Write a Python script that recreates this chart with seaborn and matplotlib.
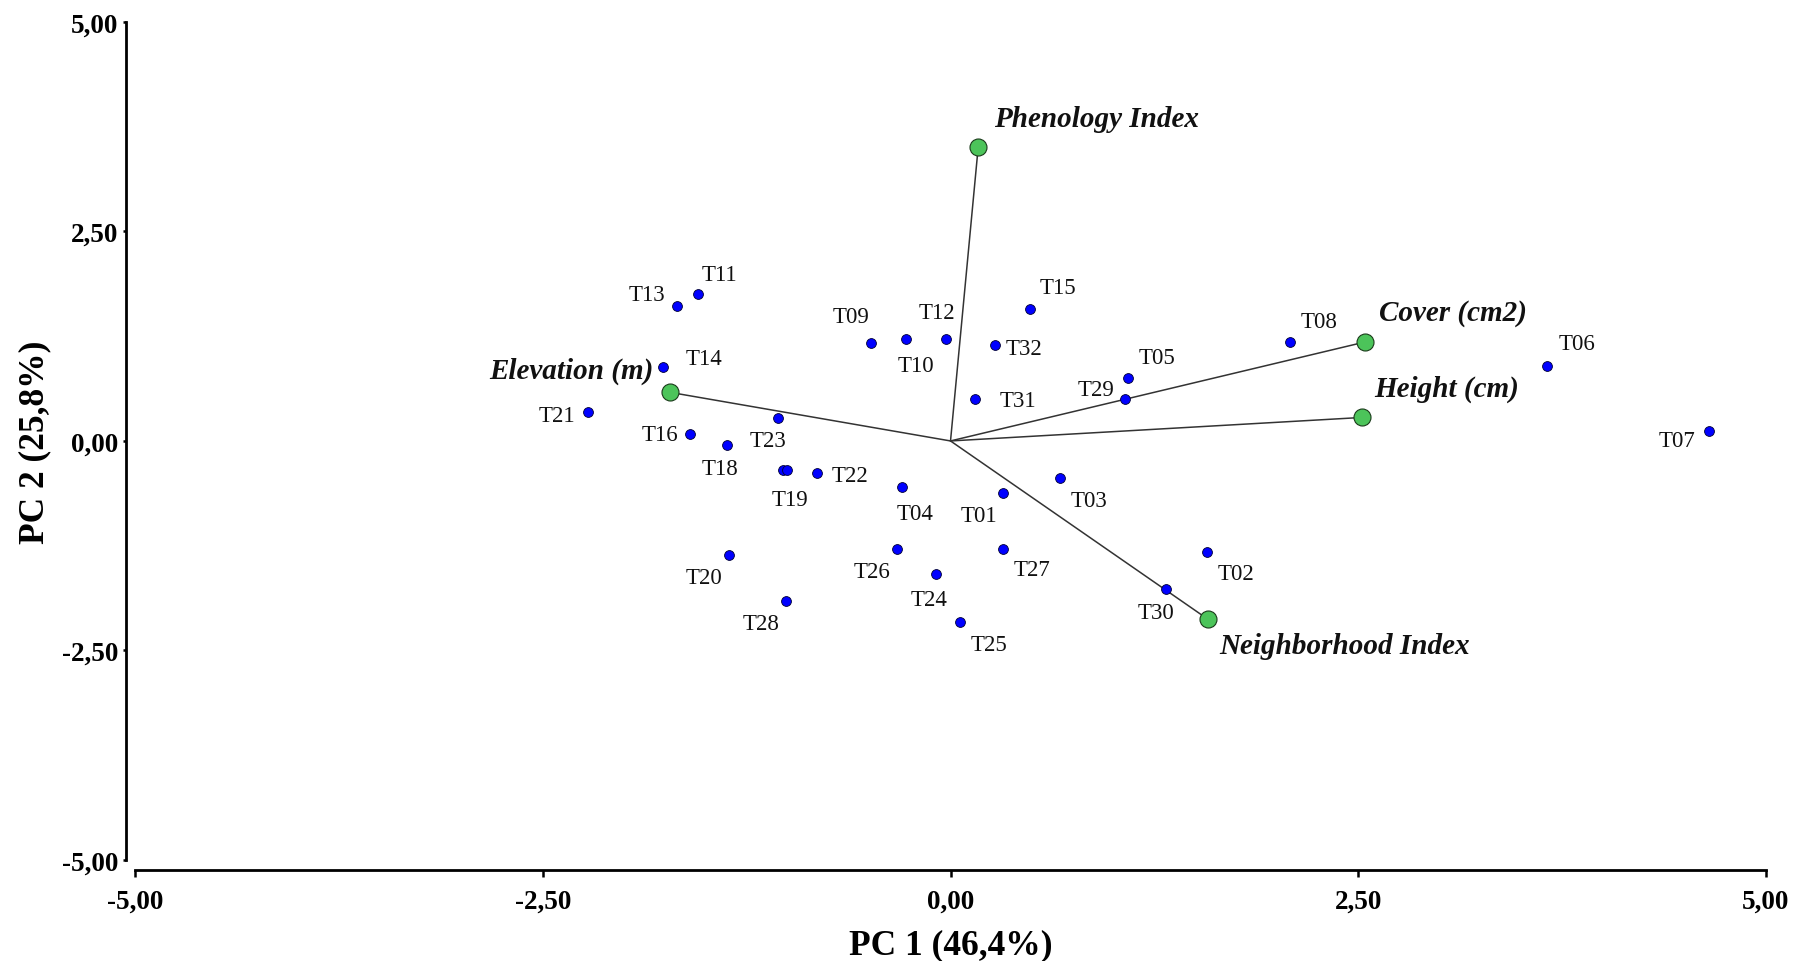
import matplotlib
matplotlib.use("Agg")
import matplotlib.pyplot as plt
import seaborn as sns
import pandas as pd

# Site scores on the first two principal components
sites = ["T01", "T02", "T03", "T04", "T05", "T06", "T07", "T08", "T09", "T10",
         "T11", "T12", "T13", "T14", "T15", "T16", "T17", "T18", "T19", "T20",
         "T21", "T22", "T23", "T24", "T25", "T26", "T27", "T28", "T29", "T30",
         "T31", "T32"]
pc1 = [0.32, 1.57, 0.67, -0.30, 1.09, 3.66, 4.65, 2.08, -0.49, -0.27,
       -1.55, -0.03, -1.68, -1.76, 0.49, -1.60, -1.03, -1.37, -1.00, -1.36,
       -2.22, -0.82, -1.06, -0.09, 0.06, -0.33, 0.32, -1.01, 1.07, 1.32,
       0.15, 0.27]
pc2 = [-0.62, -1.32, -0.44, -0.55, 0.75, 0.90, 0.12, 1.18, 1.17, 1.22,
       1.75, 1.22, 1.61, 0.88, 1.58, 0.08, -0.35, -0.05, -0.35, -1.36,
       0.34, -0.38, 0.27, -1.59, -2.16, -1.29, -1.29, -1.91, 0.50, -1.77,
       0.50, 1.14]

# Variable loadings (scaled)
variables = ["Phenology Index", "Cover (cm2)", "Height (cm)",
             "Neighborhood Index", "Elevation (m)"]
load1 = [0.17, 2.54, 2.52, 1.58, -1.72]
load2 = [3.51, 1.18, 0.28, -2.13, 0.58]

# Axis settings
ticks = [-5.0, -2.5, 0.0, 2.5, 5.0]
tick_labels = ["-5,00", "-2,50", "0,00", "2,50", "5,00"]
xlabel = "PC 1 (46,4%)"
ylabel = "PC 2 (25,8%)"

# Label placement (offsets in points)
site_offsets = {
    "T01": (-17, -16), "T02": (21, -16), "T03": (21, -16), "T04": (10, -19),
    "T05": (21, 15), "T06": (21, 16), "T07": (-23, -7), "T08": (21, 15),
    "T09": (-14, 19), "T10": (7, -19), "T11": (16, 14), "T12": (-6, 19),
    "T13": (-21, 8), "T14": (29, 6), "T15": (20, 15), "T16": (-21, 0),
    "T18": (-5, -17), "T19": (2, -21), "T20": (-18, -16), "T21": (-23, -2),
    "T22": (24, -2), "T23": (-7, -16), "T24": (-5, -18), "T25": (21, -16),
    "T26": (-18, -16), "T27": (21, -15), "T28": (-18, -16), "T29": (-21, 7),
    "T30": (-7, -17), "T31": (31, -1), "T32": (21, -2),
}
var_offsets = {
    "Phenology Index": (11, 20, "left"),
    "Cover (cm2)": (10, 21, "left"),
    "Height (cm)": (9, 21, "left"),
    "Neighborhood Index": (8, -19, "left"),
    "Elevation (m)": (-12, 16, "right"),
}

sns.set_theme(style="ticks")
plt.rcParams["font.family"] = ["Liberation Serif", "DejaVu Serif"]
plt.rcParams["font.weight"] = "bold"
plt.rcParams["xtick.labelsize"] = 19.5
plt.rcParams["ytick.labelsize"] = 19.5
plt.rcParams["xtick.color"] = "black"
plt.rcParams["ytick.color"] = "black"

fig = plt.figure(figsize=(17.98, 9.62), dpi=100)
ax = fig.add_axes([0.0751, 0.105, 0.9071, 0.8712])

# Loading vectors from the origin
for v, a, b in zip(variables, load1, load2):
    ax.plot([0, a], [0, b], color="#333333", lw=1.1, zorder=1)

df_sites = pd.DataFrame({"site": sites, "PC1": pc1, "PC2": pc2})
df_vars = pd.DataFrame({"var": variables, "PC1": load1, "PC2": load2})

sns.scatterplot(data=df_sites, x="PC1", y="PC2", ax=ax, color="#0000ff",
                edgecolor="#000033", linewidth=0.6, s=50, zorder=3, legend=False)
sns.scatterplot(data=df_vars, x="PC1", y="PC2", ax=ax, color="#4cc45a",
                edgecolor="#1a3a1a", linewidth=0.8, s=150, zorder=3, legend=False)

for s, x, y in zip(sites, pc1, pc2):
    if s in site_offsets:
        dx, dy = site_offsets[s]
        ax.annotate(s, (x, y), xytext=(dx, dy), textcoords="offset points",
                    ha="center", va="center", fontsize=16.5,
                    fontweight="normal", color="#111111")

for v, x, y in zip(variables, load1, load2):
    dx, dy, ha = var_offsets[v]
    ax.annotate(v, (x, y), xytext=(dx, dy), textcoords="offset points",
                ha=ha, va="center", fontsize=21, fontweight="bold",
                fontstyle="italic", color="#111111")

ax.set_xlim(-5, 5)
ax.set_ylim(-5, 5)
ax.set_xticks(ticks)
ax.set_xticklabels(tick_labels)
ax.set_yticks(ticks)
ax.set_yticklabels(tick_labels)
ax.tick_params(axis="x", length=5, width=1.8, color="black",
               labelcolor="black", labelsize=19.5, pad=9)
ax.tick_params(axis="y", length=2.5, width=1.8, color="black",
               labelcolor="black", labelsize=19.5, pad=3)

for side in ["top", "right"]:
    ax.spines[side].set_visible(False)
ax.spines["left"].set_position(("outward", 6.5))
ax.spines["bottom"].set_position(("outward", 7))
for side in ["left", "bottom"]:
    ax.spines[side].set_linewidth(2.0)
    ax.spines[side].set_color("black")

ax.set_xlabel(xlabel, fontsize=25.5, fontweight="bold", labelpad=10, color="black")
ax.set_ylabel(ylabel, fontsize=25.5, fontweight="bold", labelpad=8, color="black")

fig.savefig("out.png", dpi=100, facecolor="white")
